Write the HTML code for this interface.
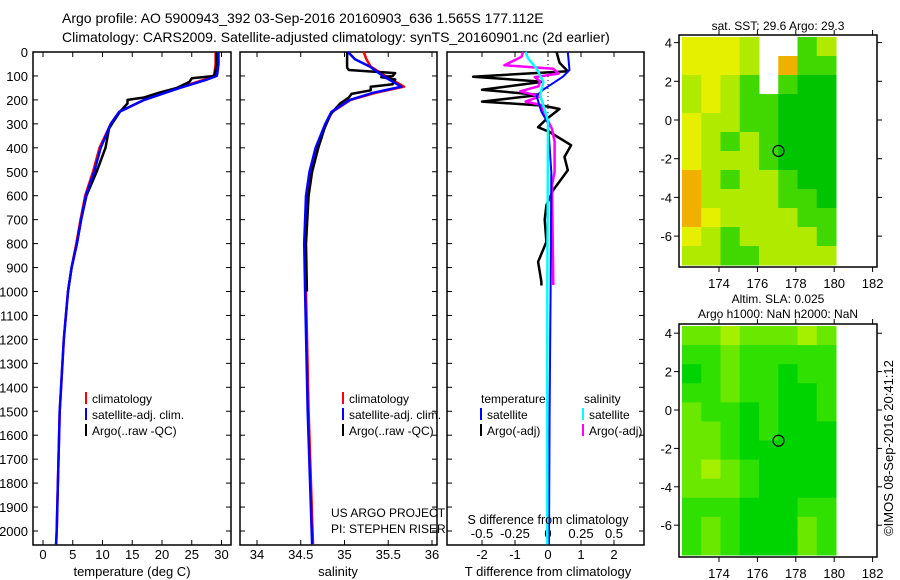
<!DOCTYPE html>
<html><head><meta charset="utf-8"><style>
body{margin:0;background:#fff}
svg{display:block;font-family:"Liberation Sans",sans-serif}
</style></head><body>
<svg id="c" width="900" height="580">
<text x="62" y="23" font-size="14">Argo profile: AO 5900943_392 03-Sep-2016 20160903_636 1.565S 177.112E</text>
<text x="62" y="42" font-size="14">Climatology: CARS2009. Satellite-adjusted climatology: synTS_20160901.nc (2d earlier)</text>
<g id="g"></g>
<text transform="translate(893,448) rotate(-90)" text-anchor="middle" font-size="13">©IMOS 08-Sep-2016 20:41:12</text>
</svg>
<script>
// ---- data ----
const depthTicks=[0,100,200,300,400,500,600,700,800,900,1000,1100,1200,1300,1400,1500,1600,1700,1800,1900,2000];
const tempTicks=[0,5,10,15,20,25,30];
const salTicks=[34,34.5,35,35.5,36];
const tdTicks=[-2,-1,0,1,2];
const sdTicks=[-0.5,-0.25,0,0.25,0.5];
const tempClimDepth=[0,50,90,100,115,150,200,250,300,400,500,600,700,800,900,1000,1200,1500,2000,2055];
const tempClim=[29.0,29.0,28.8,28.6,27.2,22.8,17.0,12.8,11.4,9.5,8.4,7.1,6.3,5.6,4.8,4.2,3.5,2.8,2.3,2.2];
const tempSat=[29.5,29.5,29.3,29.2,27.6,23.0,17.0,12.8,11.4,9.7,8.6,7.2,6.4,5.7,4.8,4.2,3.5,2.8,2.3,2.2];
const tempArgoDepth=[0,50,100,110,125,150,170,190,200,215,250,300,320,400,500,600,700,800,900,1000];
const tempArgo=[29.2,29.2,28.8,25.0,24.6,22.5,19.5,17.0,14.2,14.2,12.9,11.6,11.1,10.5,9.0,7.3,6.4,5.7,4.8,4.2];
const salDepth=[0,30,61,100,145,170,200,250,300,400,500,600,800,1000,1500,2055];
const salClim=[35.22,35.25,35.30,35.47,35.68,35.36,35.07,34.86,34.79,34.68,34.61,34.57,34.55,34.56,34.59,34.64];
const salSat=[35.04,35.12,35.29,35.44,35.65,35.33,35.06,34.85,34.78,34.67,34.60,34.56,34.54,34.55,34.58,34.63];
const salArgoDepth=[0,65,75,88,100,105,115,135,145,160,175,190,215,260,320,400,500,600,800,1000];
const salArgo=[35.03,35.03,35.05,35.58,35.55,35.42,35.58,35.55,35.30,35.30,35.08,35.05,34.95,34.84,34.77,34.70,34.63,34.59,34.56,34.57];
const tdSatDepth=[0,75,103,158,183,249,297,500,1000,1500,2055];
const tdSat=[0.6,0.65,0.45,-0.15,-0.35,-0.2,0.0,0.1,0.08,0.05,0.03];
const sdSatDepth=[0,28,70,125,180,250,290,1000,2055];
const sdSat=[-0.17,-0.15,-0.085,-0.035,-0.06,-0.02,0.0,-0.005,-0.005];
const tdArgoDepth=[0,45,80,103,124,158,179,207,224,238,280,314,334,389,438,494,578,640,700,793,876,960,975];
const tdArgo=[0.26,0.35,0.6,-2.27,-0.15,-2.0,-0.25,-2.0,-0.15,0.35,-0.05,-0.3,0.05,0.7,0.5,0.6,0.15,-0.05,-0.1,-0.05,-0.3,-0.2,-0.2];
const sdArgoDepth=[0,20,55,70,90,105,122,143,164,185,207,220,321,375,500,556,973];
const sdArgo=[-0.19,-0.2,-0.33,0.04,0.08,-0.1,-0.06,-0.07,-0.21,-0.06,-0.17,-0.06,0.03,0.05,0.05,0.03,0.04];
const sstGrid=[
[3,3,3,2,-1,-1,1,2],[3,3,3,2,-1,4,1,1],[2,3,2,1,-1,1,0,0],[2,3,2,1,1,0,0,0],
[3,2,2,1,1,0,0,0],[3,2,1,2,1,0,0,0],[3,2,2,2,1,0,0,0],[4,2,1,2,2,1,0,0],
[4,2,2,2,2,1,1,0],[4,3,2,2,2,2,1,1],[3,2,1,2,2,2,2,1],[2,2,1,1,2,2,2,2]];
const slaGrid=[
[2,2,3,2,2,2,3,2],[1,1,2,1,1,1,1,1],[0,1,2,1,1,0,1,1],[1,1,2,1,1,0,0,1],
[2,1,1,0,1,0,0,1],[2,2,1,0,1,0,0,0],[2,2,1,0,0,0,0,0],[2,3,2,1,0,0,0,0],
[2,2,2,1,0,0,0,0],[1,1,1,0,0,0,1,1],[1,2,1,0,0,0,2,1],[1,2,1,0,0,0,2,1]];
const lonTicks=[174,176,178,180,182];
const latTicks=[4,2,0,-2,-4,-6];
const floatLon=[177.1], floatLat=[-1.6];

const NS="http://www.w3.org/2000/svg";
const G=document.getElementById('g');
function el(t,a,txt){const e=document.createElementNS(NS,t);for(const k in a)e.setAttribute(k,a[k]);if(txt!==undefined)e.textContent=txt;G.appendChild(e);return e;}
const yD=d=>52+d*0.2395;
const xT=v=>43+v*5.95;
const xS=v=>257+(v-34)*87.5;
const xTD=v=>548+v*33;
const xSD=v=>548+v*132;
const TOP=52,BOT=545;
function panel(x0,x1,name){
 const r=el('rect',{x:x0,y:TOP,width:x1-x0,height:BOT-TOP,fill:'none',stroke:'#000','stroke-width':1.5});
 
 depthTicks.forEach(d=>{el('line',{x1:x0,x2:x0+5,y1:yD(d),y2:yD(d),stroke:'#000'});el('line',{x1:x1,x2:x1-5,y1:yD(d),y2:yD(d),stroke:'#000'});});
}
function xticks(vals,f,labels,y){vals.forEach((v,i)=>{const x=f(v);el('line',{x1:x,x2:x,y1:BOT,y2:BOT-5,stroke:'#000'});el('line',{x1:x,x2:x,y1:TOP,y2:TOP+5,stroke:'#000'});
 if(labels){const t=el('text',{x:x,y:y,'text-anchor':'middle','font-size':13},labels[i]);}});}
function line(ds,vs,f,col,w,name){const p=el('polyline',{points:ds.map((d,i)=>f(vs[i]).toFixed(1)+','+yD(d).toFixed(1)).join(' '),fill:'none',stroke:col,'stroke-width':w,'stroke-linejoin':'round'});
 }
// panel 1
panel(33,231,'temperature-panel');
depthTicks.forEach(d=>{const t=el('text',{x:28,y:yD(d)+5,'text-anchor':'end','font-size':13},String(d));});
xticks(tempTicks,xT,tempTicks.map(String),559);
line(tempClimDepth,tempClim,xT,'#f00',2.5,'temp-climatology-line');
line(tempArgoDepth,tempArgo,xT,'#000',2.5,'temp-argo-line');
line(tempClimDepth,tempSat,xT,'#00f',2.5,'temp-satellite-line');
// panel 2
panel(240,437,'salinity-panel');
xticks(salTicks,xS,['34','34.5','35','35.5','36'],559);
line(salDepth,salClim,xS,'#f00',2.5,'sal-climatology-line');
line(salArgoDepth,salArgo,xS,'#000',2.5,'sal-argo-line');
line(salDepth,salSat,xS,'#00f',2.5,'sal-satellite-line');
// panel 3
panel(447,644,'difference-panel');
xticks(tdTicks,xTD,['-2','-1','0','1','2'],559);
sdTicks.forEach((v,i)=>{const t=el('text',{x:xSD(v),y:538,'text-anchor':'middle','font-size':13},['-0.5','-0.25','0','0.25','0.5'][i]);});
el('line',{x1:548,x2:548,y1:TOP,y2:yD(300),stroke:'#000','stroke-dasharray':'1,3'});
line(tdArgoDepth,tdArgo,xTD,'#000',2.5,'tdiff-argo-line');
line(sdArgoDepth,sdArgo,xSD,'#f0f',2.5,'sdiff-argo-line');
line(tdSatDepth,tdSat,xTD,'#00f',2,'tdiff-satellite-line');
line(sdSatDepth,sdSat,xSD,'#0ff',2.5,'sdiff-satellite-line');
// axis titles
[['temperature (deg C)',132],['salinity',338],['T difference from climatology',548]].forEach(a=>{const t=el('text',{x:a[1],y:576,'text-anchor':'middle','font-size':13},a[0]);});
const st=el('text',{x:548,y:524,'text-anchor':'middle','font-size':12.5},'S difference from climatology');
// legends
function leg(x,y,col,txt){el('rect',{x:x,y:y-11,width:2,height:12,fill:col});const t=el('text',{x:x+7,y:y,'font-size':12},txt);}
leg(85,403,'#f00','climatology');leg(85,419,'#00f','satellite-adj. clim.');leg(85,435,'#000','Argo(..raw -QC)');
leg(342,403,'#f00','climatology');leg(342,419,'#00f','satellite-adj. clim.');leg(342,435,'#000','Argo(..raw -QC)');
el('text',{x:481,y:403,'font-size':12},'temperature');el('text',{x:584,y:403,'font-size':12},'salinity');
leg(480,419,'#00f','satellite');leg(480,435,'#000','Argo(-adj)');leg(582,419,'#0ff','satellite');leg(582,435,'#f0f','Argo(-adj)');
el('text',{x:331,y:517,'font-size':12},'US ARGO PROJECT');el('text',{x:331,y:533,'font-size':12},'PI: STEPHEN RISER');
// maps
const sstCols=['#00c400','#40d800','#b0ea00','#e4f000','#f0b000'];
const slaCols=['#00d400','#30e000','#6ae800','#a4f000'];
function map(y0,y1,lat0,grid,cols,name,ppdY){
 const x0=679,x1=877;
 const lon=l=>719+(l-174)*19.2, lat=l=>lat0-l*ppdY;
 const fr=el('rect',{x:x0,y:y0,width:x1-x0,height:y1-y0,fill:'#fff',stroke:'#000','stroke-width':1.5});
 
 const nr=grid.length,nc=grid[0].length;
 const gx0=682,gx1=836,gy0=y0+2,gy1=y1-2,cw=(gx1-gx0)/nc,ch=(gy1-gy0)/nr;
 grid.forEach((row,r)=>row.forEach((v,c)=>{if(v<0)return;const e=el('rect',{x:gx0+c*cw,y:gy0+r*ch,width:cw+0.5,height:ch+0.5,fill:cols[v]});
  }));
 lonTicks.forEach(l=>{const x=lon(l);el('line',{x1:x,x2:x,y1:y1,y2:y1+5,stroke:'#000'});el('line',{x1:x,x2:x,y1:y0,y2:y0-5,stroke:'#000'});
  const t=el('text',{x:x,y:y1+21,'text-anchor':'middle','font-size':13},String(l));});
 latTicks.forEach(l=>{const y=lat(l);el('line',{x1:x0,x2:x0-5,y1:y,y2:y,stroke:'#000'});el('line',{x1:x1,x2:x1+5,y1:y,y2:y,stroke:'#000'});
  const t=el('text',{x:672,y:y+5,'text-anchor':'end','font-size':13},String(l));});
 const c=el('circle',{cx:lon(floatLon[0]),cy:lat(floatLat[0]),r:5.5,fill:'none',stroke:'#000','stroke-width':1.2});
 
}
map(35,267,120,sstGrid,sstCols,'sst-map',19.35);
map(324,557,410,slaGrid,slaCols,'sla-map',19.2);
el('text',{x:778,y:30,'text-anchor':'middle','font-size':12},'sat. SST: 29.6 Argo: 29.3');
el('text',{x:778,y:303,'text-anchor':'middle','font-size':12},'Altim. SLA: 0.025');
el('text',{x:778,y:318,'text-anchor':'middle','font-size':12},'Argo h1000: NaN h2000: NaN');
</script>
</body></html>
